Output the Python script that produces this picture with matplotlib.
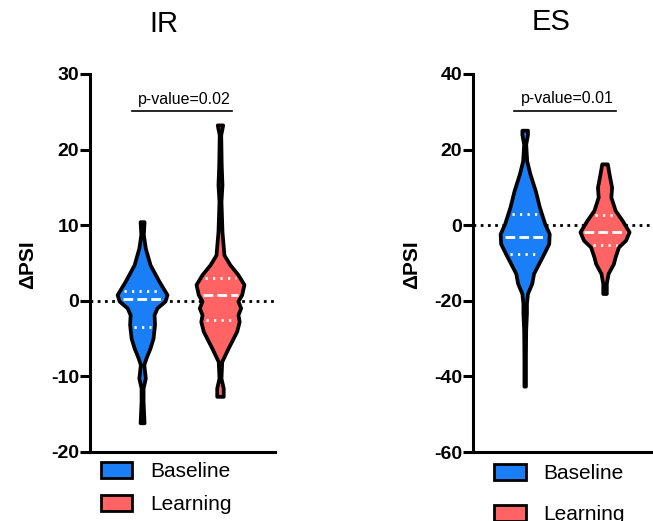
import numpy as np
import matplotlib
matplotlib.use("Agg")
import matplotlib.pyplot as plt
from matplotlib.patches import Patch

plt.rcParams['font.family'] = ['Liberation Sans', 'DejaVu Sans']

BLUE = '#1a7ff7'
RED = '#ff6363'

groups = ['Baseline', 'Learning']

# IR violins: dPSI levels and relative density (half-width) at each level
ir_base_y = [10.4, 8.7, 6.9, 4.7, 2.5, 0.75, -0.1, -1.0, -1.9, -3.2, -5.0, -6.3,
             -7.6, -8.5, -10.3, -11.6, -13.4, -16.2]
ir_base_d = [0.08, 0.05, 0.13, 0.32, 0.68, 1.0, 0.92, 0.6, 0.48, 0.5, 0.44, 0.32,
             0.16, 0.07, 0.13, 0.04, 0.04, 0.08]
ir_learn_y = [23.2, 21.9, 17.9, 15.3, 13.1, 9.1, 6.0, 4.7, 3.4, 2.1, 0.75, -0.1,
              -1.0, -1.9, -2.8, -4.1, -6.3, -8.1, -10.3, -11.6, -12.7]
ir_learn_d = [0.11, 0.03, 0.05, 0.08, 0.04, 0.08, 0.16, 0.4, 0.72, 0.96, 0.87, 0.72,
              0.83, 0.72, 0.77, 0.67, 0.33, 0.07, 0.04, 0.13, 0.13]

# ES violins
es_base_y = [25.0, 23.9, 21.3, 16.9, 13.4, 9.0, 4.7, 0.3, -2.4, -5.0, -7.6, -10.3,
             -12.9, -15.5, -18.2, -20.8, -23.4, -27.8, -34.8, -42.7]
es_base_d = [0.11, 0.11, 0.04, 0.08, 0.21, 0.42, 0.58, 0.79, 0.97, 0.95, 0.76, 0.55,
             0.35, 0.28, 0.11, 0.07, 0.07, 0.04, 0.03, 0.03]
es_learn_y = [16.1, 13.4, 9.9, 7.3, 3.8, 1.1, -1.9, -4.1, -5.9, -8.5, -10.3, -12.9,
              -15.5, -18.2]
es_learn_d = [0.11, 0.18, 0.28, 0.25, 0.42, 0.7, 0.97, 0.83, 0.55, 0.42, 0.35, 0.14,
              0.07, 0.07]

# quartiles (Q1, median, Q3)
ir_base_q = [-3.4, 0.2, 1.3]
ir_learn_q = [-2.55, 0.75, 3.0]
es_base_q = [-7.6, -3.0, 2.9]
es_learn_q = [-5.3, -1.9, 2.6]

ir_p = 'p-value=0.02'
es_p = 'p-value=0.01'


def draw_violin(ax, x, ys, dens, quart, color, scale=0.32):
    ys = np.array(ys)
    hw = np.array(dens) * scale
    xs = np.concatenate([x - hw, (x + hw)[::-1]])
    yy = np.concatenate([ys, ys[::-1]])
    ax.fill(xs, yy, facecolor=color, edgecolor='black', lw=2.7,
            joinstyle='round', zorder=3)
    for i, q in enumerate(quart):
        w = np.interp(q, ys[::-1], hw[::-1]) - 0.05
        if i == 1:
            ax.hlines(q, x - w, x + w, color='white', lw=2.0,
                      linestyles=(0, (3.5, 1.5)), zorder=4)
        else:
            ax.hlines(q, x - w, x + w, color='white', lw=2.0,
                      linestyles=(0, (0.8, 1.9)), zorder=4)


def setup(ax, ylim, ticks, ptext, py, xlim):
    ax.set_xlim(xlim)
    ax.set_ylim(ylim)
    ax.set_yticks(ticks)
    ax.set_yticklabels([str(t) for t in ticks], fontsize=14, fontweight='bold')
    ax.set_xticks([])
    for s in ['top', 'right']:
        ax.spines[s].set_visible(False)
    for s in ['left', 'bottom']:
        ax.spines[s].set_linewidth(2.2)
    ax.tick_params(axis='y', width=2.2, length=7, pad=1)
    ax.axhline(0, color='black', lw=2, linestyle=(0, (1, 1.6)), zorder=2)
    ax.plot([-0.14, 1.145], [py, py], color='black', lw=1.2, clip_on=False)
    ax.text(0.53, py + (ylim[1] - ylim[0]) * 0.012, ptext, ha='center',
            va='bottom', fontsize=11.5)
    ax.set_facecolor('none')


fig = plt.figure(figsize=(6.53, 5.21), dpi=100)
W, H = 653, 521

ax1 = fig.add_axes([90 / W, 1 - 452 / H, 185 / W, 378 / H])
ax2 = fig.add_axes([473 / W, 1 - 452 / H, 185 / W, 378 / H])

setup(ax1, (-20, 30), [-20, -10, 0, 10, 20, 30], ir_p, 25.1, (-0.675, 1.7))
setup(ax2, (-60, 40), [-60, -40, -20, 0, 20, 40], es_p, 30.3, (-0.66, 1.68))

draw_violin(ax1, 0, ir_base_y, ir_base_d, ir_base_q, BLUE)
draw_violin(ax1, 1, ir_learn_y, ir_learn_d, ir_learn_q, RED)
draw_violin(ax2, 0, es_base_y, es_base_d, es_base_q, BLUE)
draw_violin(ax2, 1.01, es_learn_y, es_learn_d, es_learn_q, RED)

for ax, lx in [(ax1, -0.335), (ax2, -0.33)]:
    ax.text(lx, 0.495, '\u0394PSI', rotation=90, ha='center', va='center',
            fontsize=15, fontweight='bold', transform=ax.transAxes)

fig.text(163.5 / W, 1 - 24 / H, 'IR', ha='center', va='center', fontsize=21)
fig.text(551.5 / W, 1 - 22 / H, 'ES', ha='center', va='center', fontsize=21)

handles = [Patch(facecolor=c, edgecolor='black', lw=2) for c in [BLUE, RED]]
ax1.legend(handles, groups, loc='upper left', bbox_to_anchor=(0.06, -0.026),
           frameon=False, fontsize=15, handlelength=1.5, handleheight=0.8,
           handletextpad=0.85, labelspacing=0.65, borderpad=0, borderaxespad=0)
ax2.legend(handles, groups, loc='upper left', bbox_to_anchor=(0.115, -0.031),
           frameon=False, fontsize=15, handlelength=1.5, handleheight=0.8,
           handletextpad=0.85, labelspacing=1.05, borderpad=0, borderaxespad=0)

fig.savefig('out.png', dpi=100)
